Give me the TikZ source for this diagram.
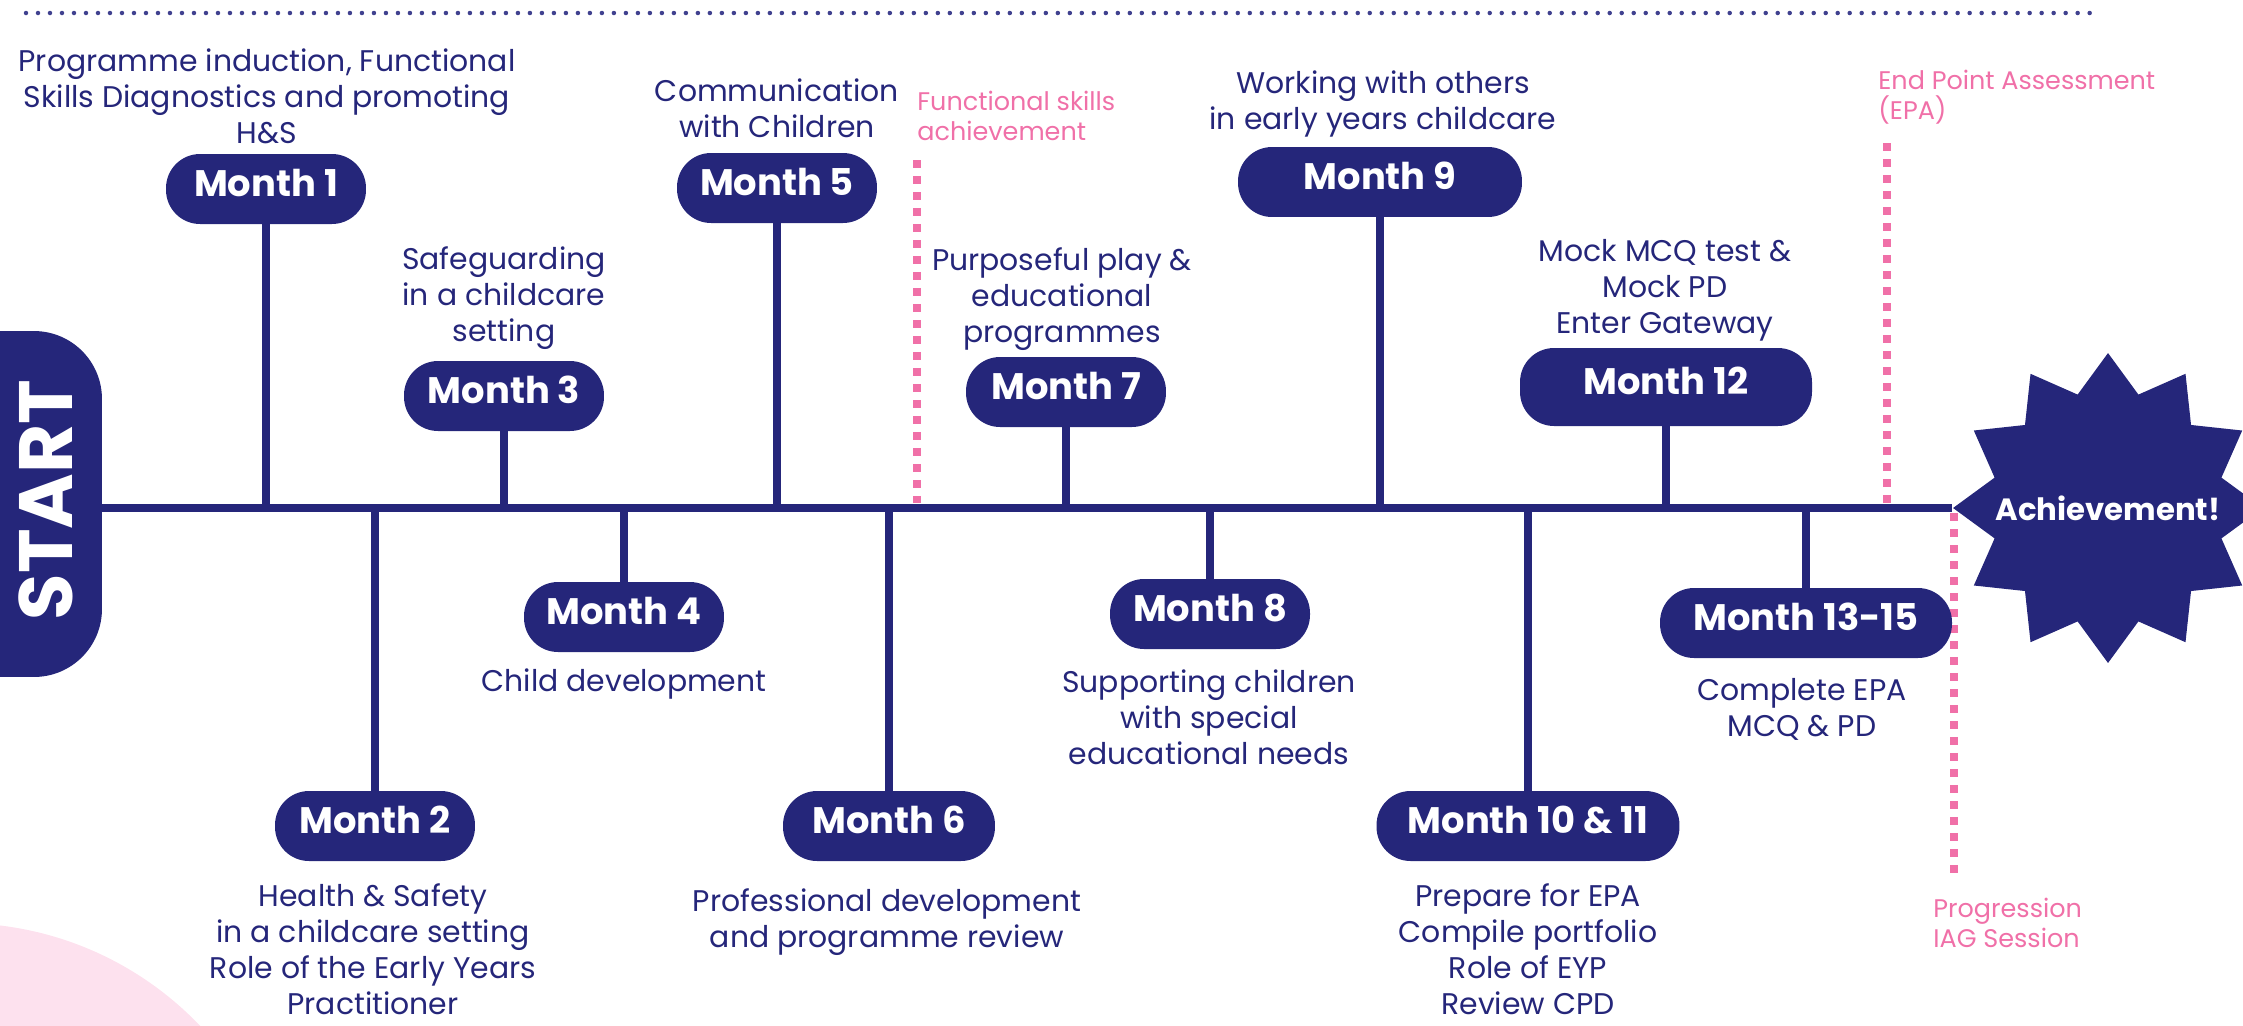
\documentclass[tikz,border=0pt]{standalone}
\usepackage{fontspec}
\setmainfont{Poppins}
\usetikzlibrary{shapes.geometric}

\definecolor{navy}{HTML}{25267A}
\definecolor{rose}{HTML}{F070A8}
\definecolor{blush}{HTML}{FDE1EE}
\definecolor{dotblue}{HTML}{40418F}

\begin{document}
\begin{tikzpicture}[
    x=0.02cm, y=-0.02cm,
    % Styles
    month_box/.style={rectangle, fill=navy, text=white, font=\bfseries\fontsize{21}{24}\selectfont,
        minimum height=1.4cm, minimum width=4cm, rounded corners=0.68cm, inner sep=0pt, text depth=0.26cm},
    note_text/.style={text=navy, align=center, font=\fontsize{17}{20.5}\selectfont, inner sep=0pt},
    pink_note/.style={text=rose, align=left, anchor=west, font=\fontsize{14.5}{17}\selectfont, inner sep=0pt},
    time_line/.style={navy, line width=0.16cm},
    stem_line/.style={navy, line width=0.16cm},
    mark_line/.style={rose, line width=0.16cm, dash pattern=on 0.16cm off 0.16cm},
    dot_line/.style={dotblue, line width=0.09cm, line cap=round, dash pattern=on 0pt off 0.24cm}
]

    % ==========================================
    % 1. CANVAS
    % ==========================================
    \useasboundingbox (0,0) rectangle (2243,1025);
    \clip (0,0) rectangle (2243,1025);

    % soft pink blob in the corner
    \fill[blush] (-40,1255) circle (6.64cm);

    % dotted rule along the top
    \draw[dot_line] (26,13) -- (2100,13);

    % ==========================================
    % 2. START TAB AND ACHIEVEMENT STAR
    % ==========================================
    \coordinate (tl) at (0,508);
    \node[fill=navy, rounded corners=1.36cm, minimum width=4.04cm, minimum height=6.92cm, inner sep=0pt] (tab) at (1,504) {};
    \node[rotate=90, text=white, font=\bfseries\fontsize{43}{43}\selectfont] (start) at (46,500) {START};

    \node[star, star points=12, star point ratio=1.32, minimum size=6.2cm, fill=navy, inner sep=0pt] (star) at (2108,508) {};
    \node[text=white, font=\bfseries\fontsize{17.5}{20}\selectfont] (ach) at (star.center) {Achievement!};

    % ==========================================
    % 3. MILESTONE MARKERS (pink)
    % ==========================================
    \draw[mark_line] (917,160) -- (917,503);
    \draw[mark_line] (1887,143) -- (1887,503);
    \draw[mark_line] (1954,513) -- (1954,873);

    \node[pink_note] (fsa) at (917,116) {Functional skills\\achievement};
    \node[pink_note] (epa) at (1878,97) {End Point Assessment\\(EPA)};
    \node[pink_note] (iag) at (1933,923) {Progression\\IAG Session};

    % ==========================================
    % 4. MONTH BOXES
    % ==========================================
    % above the line
    \node[month_box] (m1) at (266,189) {Month 1};
    \node[month_box] (m3) at (504,396) {Month 3};
    \node[month_box] (m5) at (777,188) {Month 5};
    \node[month_box] (m7) at (1066,392) {Month 7};
    \node[month_box, minimum width=5.68cm] (m9) at (1380,182) {Month 9};
    \node[month_box, minimum width=5.84cm, minimum height=1.56cm] (m12) at (1666,387) {Month 12};
    % below the line
    \node[month_box] (m2) at (375,826) {Month 2};
    \node[month_box] (m4) at (624,617) {Month 4};
    \node[month_box, minimum width=4.24cm] (m6) at (889,826) {Month 6};
    \node[month_box] (m8) at (1210,614) {Month 8};
    \node[month_box, minimum width=6.06cm] (m10) at (1528,826) {Month 10 \& 11};
    \node[month_box, minimum width=5.84cm] (m13) at (1806,623) {Month 13-15};

    % ==========================================
    % 5. TIMELINE AND STEMS
    % ==========================================
    \draw[time_line] (tab.east |- tl) -- (star.west);

    \foreach \m in {m1, m3, m5, m7, m9, m12} {
        \draw[stem_line] (\m.south) -- (\m.south |- tl);
    }
    \foreach \m in {m2, m4, m6, m8, m10, m13} {
        \draw[stem_line] (\m.north) -- (\m.north |- tl);
    }

    % ==========================================
    % 6. DESCRIPTIONS
    % ==========================================
    \node[note_text] (t1) at (267,96) {Programme induction, Functional\\Skills Diagnostics and promoting\\H\&S};
    \node[note_text] (t3) at (504,298) {Safeguarding\\in a childcare\\setting};
    \node[note_text] (t5) at (777,108) {Communication\\with Children};
    \node[note_text] (t7) at (1062,299) {Purposeful play \&\\educational\\programmes};
    \node[note_text] (t9) at (1383,104) {Working with others\\in early years childcare};
    \node[note_text] (t12) at (1665,290) {Mock MCQ test \&\\Mock PD\\Enter Gateway};

    \node[note_text] (t2) at (373,949) {Health \& Safety\\in a childcare setting\\Role of the Early Years\\Practitioner};
    \node[note_text] (t4) at (624,684) {Child development};
    \node[note_text] (t6) at (887,922) {Professional development\\and programme review};
    \node[note_text] (t8) at (1209,717) {Supporting children\\with special\\educational needs};
    \node[note_text] (t10) at (1528,949) {Prepare for EPA\\Compile portfolio\\Role of EYP\\Review CPD};
    \node[note_text] (t13) at (1802,709) {Complete EPA\\MCQ \& PD};

\end{tikzpicture}
\end{document}
